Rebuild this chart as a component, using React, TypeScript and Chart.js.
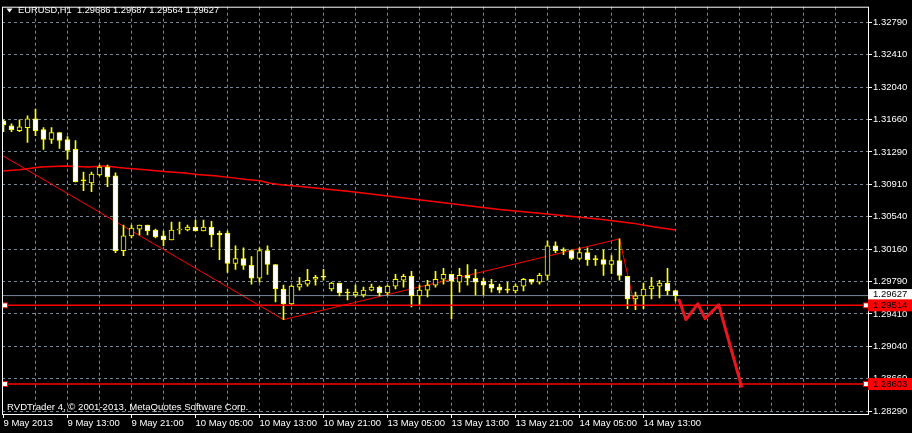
import React, { useEffect, useRef } from 'react';
import { Chart, registerables } from 'chart.js';

Chart.register(...registerables);

// ---------- data ----------
const symbolTitle = 'EURUSD,H1  1.29686 1.29687 1.29564 1.29627';
const copyrightText = 'RVDTrader 4, \u00A9 2001-2013, MetaQuotes Software Corp.';

const timeLabels = [
  '9 May 2013', '9 May 13:00', '9 May 21:00', '10 May 05:00', '10 May 13:00', '10 May 21:00',
  '13 May 05:00', '13 May 13:00', '13 May 21:00', '14 May 05:00', '14 May 13:00',
];
const barsPerLabel = 8;

const opens = [
  1.31651, 1.31594, 1.31537, 1.31571, 1.31673, 1.31548, 1.31434, 1.31514, 1.31434, 1.31320,
  1.30956, 1.30933, 1.31024, 1.31115, 1.31013, 1.30147, 1.30318, 1.30397, 1.30443, 1.30386,
  1.30318, 1.30272, 1.30386, 1.30386, 1.30420, 1.30375, 1.30420, 1.30352, 1.30352, 1.29999,
  1.30056, 1.29976, 1.29828, 1.30147, 1.29987, 1.29703, 1.29532, 1.29725, 1.29760, 1.29816,
  1.29851, 1.29703, 1.29771, 1.29657, 1.29634, 1.29634, 1.29691, 1.29725, 1.29657, 1.29737,
  1.29805, 1.29851, 1.29623, 1.29691, 1.29748, 1.29816, 1.29873, 1.29782, 1.29862, 1.29828,
  1.29794, 1.29760, 1.29725, 1.29691, 1.29680, 1.29737, 1.29816, 1.29782, 1.29862, 1.30204,
  1.30147, 1.30147, 1.30056, 1.30124, 1.30044, 1.30044, 1.29987, 1.30033, 1.29851, 1.29589,
  1.29623, 1.29703, 1.29737, 1.29771, 1.29686,
];
const highs = [
  1.31662, 1.31616, 1.31662, 1.31708, 1.31787, 1.31571, 1.31571, 1.31514, 1.31468, 1.31423,
  1.31058, 1.31058, 1.31138, 1.31138, 1.31047, 1.30443, 1.30443, 1.30443, 1.30443, 1.30397,
  1.30375, 1.30477, 1.30477, 1.30443, 1.30500, 1.30500, 1.30488, 1.30375, 1.30375, 1.30204,
  1.30181, 1.30078, 1.30181, 1.30204, 1.29987, 1.29748, 1.29748, 1.29839, 1.29930, 1.29862,
  1.29930, 1.29782, 1.29771, 1.29703, 1.29748, 1.29725, 1.29760, 1.29737, 1.29748, 1.29873,
  1.29873, 1.29908, 1.29748, 1.29805, 1.29908, 1.29942, 1.29873, 1.29942, 1.29987, 1.29930,
  1.29828, 1.29816, 1.29760, 1.29782, 1.29760, 1.29828, 1.29816, 1.29885, 1.30261, 1.30249,
  1.30181, 1.30158, 1.30181, 1.30181, 1.30090, 1.30158, 1.30090, 1.30284, 1.29851, 1.29668,
  1.29771, 1.29839, 1.29805, 1.29942, 1.29687,
];
const lows = [
  1.31525, 1.31525, 1.31525, 1.31400, 1.31480, 1.31320, 1.31389, 1.31332, 1.31206, 1.30944,
  1.30842, 1.30830, 1.31013, 1.30887, 1.30124, 1.30090, 1.30295, 1.30329, 1.30329, 1.30295,
  1.30204, 1.30272, 1.30340, 1.30375, 1.30375, 1.30375, 1.30192, 1.30044, 1.29896, 1.29930,
  1.29930, 1.29760, 1.29782, 1.29873, 1.29554, 1.29349, 1.29520, 1.29691, 1.29737, 1.29748,
  1.29805, 1.29680, 1.29623, 1.29577, 1.29611, 1.29611, 1.29680, 1.29623, 1.29634, 1.29703,
  1.29725, 1.29497, 1.29520, 1.29611, 1.29725, 1.29760, 1.29361, 1.29668, 1.29748, 1.29634,
  1.29634, 1.29668, 1.29657, 1.29657, 1.29657, 1.29680, 1.29760, 1.29760, 1.29805, 1.30124,
  1.30101, 1.30044, 1.30044, 1.29976, 1.29976, 1.29862, 1.29885, 1.29805, 1.29475, 1.29463,
  1.29475, 1.29589, 1.29600, 1.29634, 1.29564,
];
const closes = [
  1.31605, 1.31548, 1.31582, 1.31673, 1.31537, 1.31434, 1.31514, 1.31423, 1.31309, 1.30944,
  1.30956, 1.31035, 1.31115, 1.31001, 1.30147, 1.30318, 1.30409, 1.30443, 1.30375, 1.30306,
  1.30272, 1.30386, 1.30397, 1.30420, 1.30375, 1.30420, 1.30329, 1.30329, 1.29999, 1.30056,
  1.29976, 1.29828, 1.30147, 1.29987, 1.29703, 1.29532, 1.29737, 1.29760, 1.29805, 1.29839,
  1.29839, 1.29771, 1.29657, 1.29657, 1.29668, 1.29691, 1.29725, 1.29657, 1.29737, 1.29816,
  1.29851, 1.29623, 1.29691, 1.29748, 1.29816, 1.29873, 1.29794, 1.29862, 1.29828, 1.29782,
  1.29748, 1.29714, 1.29691, 1.29691, 1.29737, 1.29816, 1.29782, 1.29862, 1.30204, 1.30147,
  1.30147, 1.30056, 1.30124, 1.30044, 1.30044, 1.29987, 1.30033, 1.29862, 1.29589, 1.29623,
  1.29703, 1.29737, 1.29771, 1.29680, 1.29627,
];

// moving average line (bar position, price)
const maBars = [-0.2, 2, 4.6, 7.7, 10.6, 12.7, 15, 17.7, 20.4, 22.7, 24.2, 26.7, 28.7, 30.4, 32.1, 33, 34.6, 36.2, 43.3, 49.6, 55.8, 62, 68.3, 74.6, 78.6, 81.4, 84];
const maValues = [1.31070, 1.31085, 1.31115, 1.31127, 1.31115, 1.31127, 1.31104, 1.31085, 1.31062, 1.31047, 1.31028, 1.31013, 1.30990, 1.30971, 1.30956, 1.30933, 1.30910, 1.30899, 1.30831, 1.30762, 1.30694, 1.30625, 1.30569, 1.30512, 1.30466, 1.30420, 1.30386];

// zigzag
const zigzagBars = [-0.19, 35, 77, 79];
const zigzagValues = [1.31252, 1.29349, 1.30284, 1.29463];

// hand-drawn forecast
const forecastBars = [84.4, 85.3, 86.8, 87.7, 89.4, 92.3];
const forecastValues = [1.29589, 1.29350, 1.29532, 1.29361, 1.29520, 1.28563];

const bidPrice = 1.29627;
const bidLabel = '1.29627';
const levelPrices = [1.29514, 1.28603];
const levelLabels = ['1.29514', '1.28603'];

const priceTickValues = [1.32790, 1.32415, 1.32040, 1.31665, 1.31290, 1.30915, 1.30540, 1.30165, 1.29790, 1.29415, 1.29040, 1.28665, 1.28290];
const priceTickLabels = ['1.32790', '1.32410', '1.32040', '1.31660', '1.31290', '1.30910', '1.30540', '1.30160', '1.29790', '1.29410', '1.29040', '1.28660', '1.28290'];

// ---------- chart ----------
const FONT = "'Liberation Sans', Arial, sans-serif";
const GRID = '#778899';
const YELLOW = '#ffff00';
const RED = '#ff0000';

export default function App() {
  const ref = useRef<HTMLCanvasElement>(null);

  useEffect(() => {
    const canvas = ref.current;
    if (!canvas) return;
    const X_MIN = -0.1875;
    const X_MAX = 108.0625;
    const Y_MIN = 1.28256;
    const Y_MAX = 1.32972;

    const idx = opens.map((_, i) => i);
    const wickData = idx.map((i) => ({ x: i, y: [lows[i], highs[i]] }));
    const bodyData = idx.map((i) => ({ x: i, y: [opens[i], closes[i]] }));
    const bodyFill = idx.map((i) =>
      closes[i] < opens[i] ? '#ffffff' : closes[i] > opens[i] ? '#000000' : YELLOW
    );

    const levelSets = levelPrices.map((p) => ({
      type: 'line',
      data: [
        { x: X_MIN, y: p },
        { x: 0.19, y: p },
        { x: 107.8, y: p },
        { x: X_MAX, y: p },
      ],
      borderColor: RED,
      borderWidth: 1.5,
      pointRadius: [0, 3.5, 3.5, 0],
      pointStyle: 'rect',
      pointBackgroundColor: '#ffffff',
      pointBorderColor: RED,
      pointBorderWidth: 1,
      order: 0,
    }));

    const overlay = {
      id: 'mtOverlay',
      afterDraw(chart: any) {
        const ctx = chart.ctx;
        const ys = chart.scales.y;
        const area = chart.chartArea;
        ctx.save();
        // frame
        ctx.strokeStyle = '#ffffff';
        ctx.lineWidth = 1;
        ctx.setLineDash([]);
        ctx.strokeRect(area.left + 0.5, area.top + 0.5, area.right - area.left, area.bottom - area.top);
        // price boxes
        ctx.font = `9.5px ${FONT}`;
        ctx.textBaseline = 'middle';
        ctx.textAlign = 'left';
        const by = ys.getPixelForValue(bidPrice);
        ctx.fillStyle = '#ffffff';
        ctx.fillRect(area.right, by - 6.5, 912 - area.right, 11);
        ctx.fillStyle = '#000000';
        ctx.fillText(bidLabel, area.right + 5, by - 1.5);
        levelPrices.forEach((p, k) => {
          const y = ys.getPixelForValue(p);
          ctx.fillStyle = RED;
          ctx.fillRect(area.right, y - 6, 912 - area.right, 12);
          ctx.fillStyle = '#000000';
          ctx.fillText(levelLabels[k], area.right + 5, y + 0.5);
        });
        // title
        ctx.fillStyle = '#ffffff';
        ctx.beginPath();
        ctx.moveTo(6.5, 8.5);
        ctx.lineTo(12.5, 8.5);
        ctx.lineTo(9.5, 12.5);
        ctx.closePath();
        ctx.fill();
        ctx.font = `9.3px ${FONT}`;
        ctx.fillText(symbolTitle, 18, 10.5);
        // copyright
        ctx.font = `9.6px ${FONT}`;
        ctx.fillText(copyrightText, 7, 407.5);
        ctx.restore();
      },
    };

    const chart = new Chart(canvas, {
      type: 'bar',
      data: {
        datasets: [
          {
            type: 'line',
            data: forecastBars.map((b, i) => ({ x: b, y: forecastValues[i] })),
            borderColor: '#e8161e',
            borderWidth: 3,
            pointRadius: 0,
            borderJoinStyle: 'round',
            order: -1,
          },
          ...levelSets,
          {
            type: 'bar',
            data: bodyData,
            backgroundColor: bodyFill,
            borderColor: YELLOW,
            borderWidth: 1,
            borderSkipped: false,
            barThickness: 5,
            minBarLength: 1,
            grouped: false,
            order: 1,
          },
          {
            type: 'bar',
            data: wickData,
            backgroundColor: YELLOW,
            borderWidth: 0,
            barThickness: 1,
            grouped: false,
            order: 2,
          },
          {
            type: 'line',
            data: [
              { x: X_MIN, y: bidPrice },
              { x: X_MAX, y: bidPrice },
            ],
            borderColor: GRID,
            borderWidth: 1,
            pointRadius: 0,
            order: 3,
          },
          {
            type: 'line',
            data: zigzagBars.map((b, i) => ({ x: b, y: zigzagValues[i] })),
            borderColor: RED,
            borderWidth: 1,
            pointRadius: 0,
            order: 4,
          },
          {
            type: 'line',
            data: maBars.map((b, i) => ({ x: b, y: maValues[i] })),
            borderColor: RED,
            borderWidth: 1.5,
            pointRadius: 0,
            order: 5,
          },
        ] as any,
      },
      options: {
        animation: false,
        responsive: false,
        maintainAspectRatio: false,
        events: [],
        layout: { padding: { left: 2, top: 0, right: 0, bottom: 0 } },
        plugins: { legend: { display: false }, tooltip: { enabled: false }, title: { display: false } },
        scales: {
          x: {
            type: 'linear',
            min: X_MIN,
            max: X_MAX,
            offset: false,
            grid: {
              offset: false,
              color: (c: any) => (c.tick && c.tick.value === 0 ? 'rgba(0,0,0,0)' : GRID),
              lineWidth: 1,
              drawTicks: true,
              tickLength: 4,
              tickWidth: 1,
              tickColor: (c: any) =>
                c.tick && c.tick.value % barsPerLabel === 0 && c.tick.value / barsPerLabel < timeLabels.length
                  ? '#ffffff'
                  : 'rgba(0,0,0,0)',
            },
            border: { display: false, dash: [3, 3] },
            afterBuildTicks: (s: any) => {
              const t = [];
              for (let b = 0; b <= 104; b += 4) t.push({ value: b });
              s.ticks = t;
            },
            afterFit: (s: any) => {
              s.height = 19;
            },
            ticks: {
              autoSkip: false,
              maxRotation: 0,
              minRotation: 0,
              align: 'start',
              padding: 0,
              color: '#ffffff',
              font: { family: FONT, size: 9.5 },
              callback: (v: any) => {
                const b = Math.round(Number(v));
                if (b % barsPerLabel !== 0) return '';
                const k = b / barsPerLabel;
                return k < timeLabels.length ? timeLabels[k] : '';
              },
            },
          },
          y: {
            type: 'linear',
            position: 'right',
            min: Y_MIN,
            max: Y_MAX,
            beginAtZero: false,
            grid: {
              color: GRID,
              lineWidth: 1,
              drawTicks: true,
              tickLength: 4,
              tickColor: '#ffffff',
              tickWidth: 1,
            },
            border: { display: false, dash: [3, 3] },
            afterBuildTicks: (s: any) => {
              s.ticks = priceTickValues.map((v) => ({ value: v }));
            },
            afterFit: (s: any) => {
              s.width = 44;
            },
            ticks: {
              autoSkip: false,
              padding: 1,
              color: '#ffffff',
              font: { family: FONT, size: 9.5 },
              callback: (v: any) => {
                const k = priceTickValues.findIndex((t) => Math.abs(t - Number(v)) < 1e-7);
                return k >= 0 ? priceTickLabels[k] : '';
              },
            },
          },
        },
      } as any,
      plugins: [overlay],
    });

    return () => chart.destroy();
  }, []);

  return (
    <div style={{ position: 'fixed', left: 0, top: 0, width: 912, height: 433, background: '#000000' }}>
      <canvas ref={ref} width={912} height={433} style={{ display: 'block', width: 912, height: 433 }} />
    </div>
  );
}
